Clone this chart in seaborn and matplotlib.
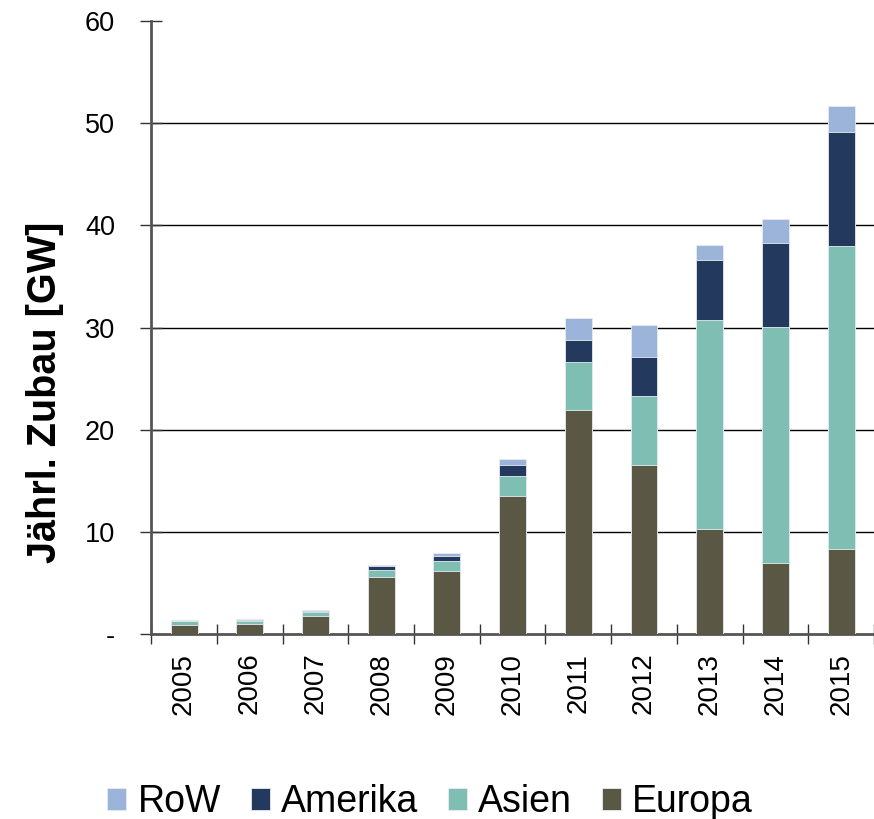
import numpy as np
import pandas as pd
import seaborn as sns
import matplotlib.pyplot as plt

# Jährlicher PV-Zubau nach Region [GW]
years = ["2005", "2006", "2007", "2008", "2009", "2010",
         "2011", "2012", "2013", "2014", "2015"]
europa = [0.90, 0.95, 1.76, 5.60, 6.16, 13.47, 21.90, 16.50, 10.25, 6.90, 8.30]
asien = [0.35, 0.35, 0.36, 0.66, 1.00, 2.00, 4.70, 6.80, 20.45, 23.20, 29.65]
amerika = [0.03, 0.05, 0.13, 0.39, 0.50, 1.05, 2.20, 3.80, 5.95, 8.20, 11.25]
row = [0.07, 0.10, 0.10, 0.07, 0.26, 0.60, 2.10, 3.20, 1.45, 2.30, 2.50]

colors = {"RoW": "#9DB4DA", "Amerika": "#23395D",
          "Asien": "#7FBFB3", "Europa": "#5A5744"}

df = pd.DataFrame({"Jahr": years, "Europa": europa, "Asien": asien,
                   "Amerika": amerika, "RoW": row})
# kumulierte Werte fuer gestapelte Balken
df["c_Europa"] = df["Europa"]
df["c_Asien"] = df["c_Europa"] + df["Asien"]
df["c_Amerika"] = df["c_Asien"] + df["Amerika"]
df["c_RoW"] = df["c_Amerika"] + df["RoW"]

sns.set_style("ticks")
plt.rcParams["font.family"] = ["Liberation Sans", "DejaVu Sans"]
plt.rcParams["text.color"] = "black"
plt.rcParams["axes.labelcolor"] = "black"
plt.rcParams["xtick.color"] = "black"
plt.rcParams["ytick.color"] = "black"

fig = plt.figure(figsize=(8.74, 8.19), dpi=100)
ax = fig.add_axes([0.173, 0.226, 0.827, 0.748])

for name in ["RoW", "Amerika", "Asien", "Europa"]:
    sns.barplot(data=df, x="Jahr", y="c_" + name, color=colors[name],
                saturation=1, width=0.41, label=name, ax=ax,
                edgecolor="#E8ECEF", linewidth=0.6, zorder=3)
if ax.get_legend() is not None:
    ax.get_legend().remove()

ax.set_ylim(0, 60)
ax.set_xlim(-0.5, 10.5)
ax.set_yticks(np.arange(0, 61, 10))
ax.set_yticklabels(["-", "10", "20", "30", "40", "50", "60"])
ax.yaxis.grid(True, color="black", linewidth=1.0, zorder=0)
ax.set_axisbelow(True)
ax.get_ygridlines()[-1].set_visible(False)
ax.get_ygridlines()[0].set_visible(False)

ax.set_xticks(range(len(years)))
ax.set_xticklabels(years, rotation=90)
ax.set_xticks(np.arange(-0.5, 11, 1), minor=True)
ax.tick_params(axis="x", which="major", bottom=False, labelsize=20, pad=10,
               labelcolor="black")
ax.tick_params(axis="x", which="minor", bottom=True, direction="inout",
               length=14, width=1, color="#333333")
ax.tick_params(axis="y", left=True, direction="inout", length=16, width=1,
               color="#333333", labelsize=19.5, pad=18, labelcolor="black")

for s in ["top", "right"]:
    ax.spines[s].set_visible(False)
for s in ["left", "bottom"]:
    ax.spines[s].set_color("#555555")
    ax.spines[s].set_linewidth(2)

ax.set_xlabel("")
ax.set_ylabel("Jährl. Zubau [GW]", fontsize=28.5, fontweight="bold",
              color="black")
ax.yaxis.set_label_coords(-0.12, 0.395)

handles, labels = ax.get_legend_handles_labels()
fig.legend(handles, labels, loc="lower center", bbox_to_anchor=(0.492, -0.043),
           ncol=4, frameon=False, fontsize=27, handlelength=0.5,
           handleheight=0.5, handletextpad=0.3, columnspacing=0.8)

fig.savefig("out.png", dpi=100)
